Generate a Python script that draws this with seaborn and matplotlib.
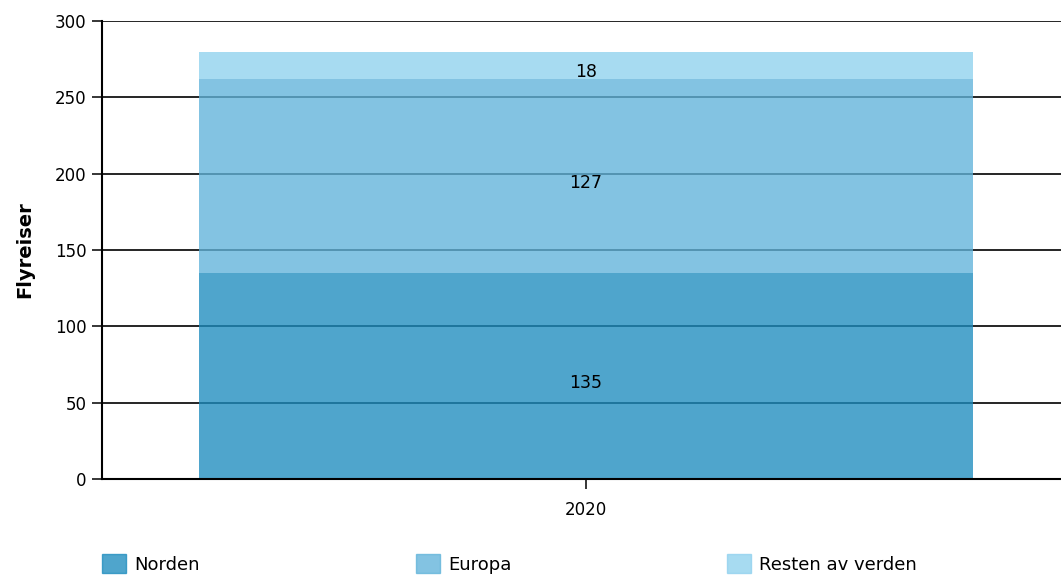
import matplotlib
matplotlib.use('Agg')
import matplotlib.pyplot as plt
from matplotlib.patches import Patch
import numpy as np
import pandas as pd
import seaborn as sns

# data
years = ['2020']
regions = ['Norden', 'Europa', 'Resten av verden']
norden = [135]
europa = [127]
resten = [18]
yticks = [0, 50, 100, 150, 200, 250, 300]

# colours (before alpha; gridlines shine through the bars)
colors = ['#1d8cbe', '#60b3da', '#8fd1ee']
alpha = 0.78

sns.set_theme(style='white')
plt.rcParams['font.family'] = ['DejaVu Sans']
plt.rcParams['text.color'] = 'black'

df = pd.DataFrame({'year': years, 'Norden': norden, 'Europa': europa, 'Resten av verden': resten})

fig = plt.figure(figsize=(10.61, 5.75), dpi=100)
ax = fig.add_axes([102/1061, 1-479/575, 959/1061, 458/575])

# gridlines under bars
ax.set_axisbelow(True)
ax.yaxis.grid(True, color='black', linewidth=1.2)

bottom = np.zeros(len(df))
for reg, c in zip(regions, colors):
    sns.barplot(data=df, x='year', y=reg, color=c, alpha=alpha, width=0.8,
                bottom=bottom, saturation=1, linewidth=0, ax=ax, zorder=3)
    bottom = bottom + df[reg].values

for cont in ax.containers:
    texts = ax.bar_label(cont, label_type='center', fontsize=12.5, color='black')
    for t in texts:
        t.xyann = (0, -5)

ax.set_xlim(-484/967.5, 475/967.5)
ax.set_ylim(0, 300)
ax.set_yticks(yticks)
ax.set_xlabel('')
ax.set_ylabel('Flyreiser', fontsize=14, fontweight='bold', labelpad=15, color='black')
ax.tick_params(axis='both', labelsize=12, colors='black', direction='out', length=7, width=1.1,
               pad=4, left=True, bottom=True)
ax.tick_params(axis='x', pad=9)

for s in ['top', 'right']:
    ax.spines[s].set_visible(False)
for s in ['left', 'bottom']:
    ax.spines[s].set_color('black')
    ax.spines[s].set_linewidth(1.5)
    ax.spines[s].set_zorder(5)

# legend: one entry per column, fixed start positions
legend_x = [102/1061, 416/1061, 727/1061]
for reg, c, lx in zip(regions, colors, legend_x):
    h = Patch(facecolor=c, alpha=alpha, edgecolor=c, linewidth=1)
    fig.legend([h], [reg], loc='center left', bbox_to_anchor=(lx, 1-564/575),
               frameon=False, fontsize=13, handlelength=1.33, handleheight=1.2,
               handletextpad=0.45, borderaxespad=0, borderpad=0, labelcolor='black')

fig.savefig('out.png', dpi=100)
